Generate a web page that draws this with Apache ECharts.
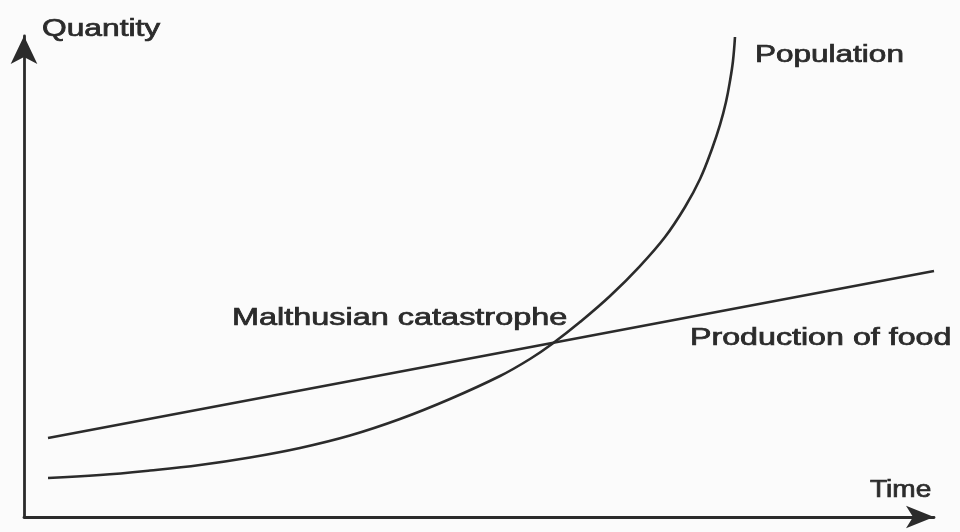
<!DOCTYPE html>
<html>
<head>
<meta charset="utf-8">
<script src="https://cdn.jsdelivr.net/npm/echarts@6/dist/echarts.min.js"></script>
<style>html,body{margin:0;padding:0;background:#fbfbfb}#c{width:960px;height:532px}</style>
</head>
<body>
<div id="c"></div>
<script>
// Time (x) and Quantity (y) values, arbitrary units (0-100)
var populationTime = [2.64, 8.35, 13.85, 19.34, 24.84, 30.33, 35.82, 41.32, 46.81, 52.31, 55.60, 58.02, 61.10, 64.40, 67.69, 70.44, 72.64, 74.29, 75.60, 76.48, 77.14, 77.58, 77.91, 78.13];
var populationQty  = [8.11, 8.73, 9.67, 10.81, 12.37, 14.35, 16.94, 20.37, 24.53, 29.31, 32.85, 35.97, 40.54, 45.95, 52.18, 58.21, 64.45, 70.27, 76.51, 81.50, 86.28, 90.64, 94.80, 99.79];
var foodTime = [2.64, 100.0];
var foodQty  = [16.42, 51.14];
var axisNames = ['Time', 'Quantity'];
var seriesNames = ['Population', 'Production of food'];
var annotation = 'Malthusian catastrophe';

function pairs(xs, ys){ return xs.map(function(x,i){ return [x, ys[i]]; }); }

var ink = '#2b2b2b';
var font = '23px "Liberation Sans", Arial, sans-serif';
function label(text, x, y, sx){
  return {type:'text', x:x, y:y, scaleX:sx, z:20,
    style:{text:text, font:font, fill:ink, stroke:ink, lineWidth:0.7, align:'left', verticalAlign:'middle'}};
}

var chart = echarts.init(document.getElementById('c'), null, {renderer:'canvas'});
chart.setOption({
  animation:false,
  backgroundColor:'#fbfbfb',
  grid:{left:24, right:26, top:36, bottom:15},
  xAxis:{type:'value', min:0, max:100,
    axisLine:{show:true, symbol:['none','arrow'], symbolSize:[17,28], lineStyle:{color:ink, width:2.8}},
    axisTick:{show:false}, axisLabel:{show:false}, splitLine:{show:false}},
  yAxis:{type:'value', min:0, max:100,
    axisLine:{show:true, symbol:['none','arrow'], symbolSize:[20,28], lineStyle:{color:ink, width:2.8}},
    axisTick:{show:false}, axisLabel:{show:false}, splitLine:{show:false}},
  series:[
    {name:seriesNames[0], type:'line', data:pairs(populationTime, populationQty), smooth:0.4,
     showSymbol:false, clip:false, lineStyle:{color:ink, width:2.6}},
    {name:seriesNames[1], type:'line', data:pairs(foodTime, foodQty),
     showSymbol:false, clip:false, lineStyle:{color:ink, width:2.6}}
  ],
  graphic:[
    label(axisNames[1], 42, 30, 1.38),
    label(axisNames[0], 870, 491, 1.22),
    label(seriesNames[0], 755, 56, 1.37),
    label(seriesNames[1], 690, 338.5, 1.40),
    label(annotation, 232, 318.5, 1.41)
  ]
});
</script>
</body>
</html>
